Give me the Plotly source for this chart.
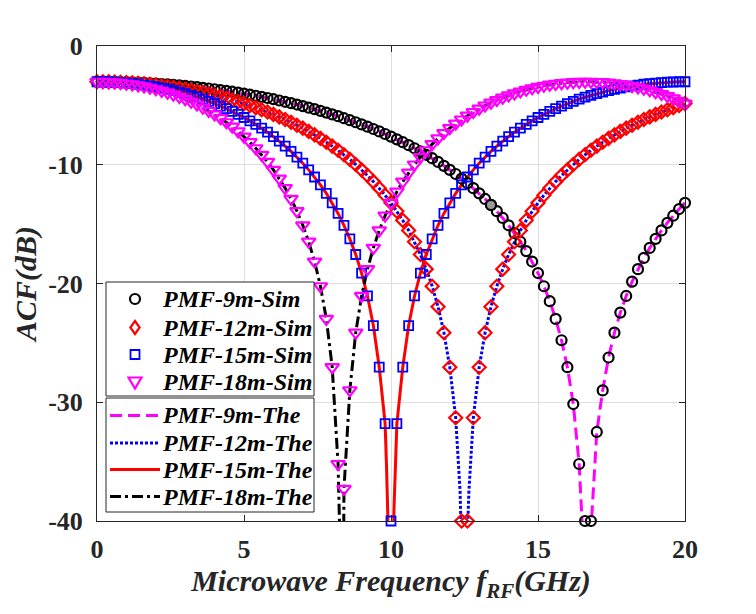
import plotly.graph_objects as go

# ---------------- data ----------------
freq_ghz = [round(0.2 * i, 1) for i in range(101)]  # 0 ... 20 GHz, 0.2 GHz grid

acf_9m_sim = [
    -3.01, -3.01, -3.02, -3.02, -3.03, -3.05, -3.07, -3.09, -3.11, -3.14,
    -3.17, -3.20, -3.23, -3.27, -3.32, -3.36, -3.41, -3.46, -3.52, -3.58,
    -3.64, -3.71, -3.78, -3.85, -3.93, -4.01, -4.10, -4.19, -4.28, -4.38,
    -4.48, -4.59, -4.70, -4.81, -4.93, -5.06, -5.19, -5.32, -5.46, -5.61,
    -5.76, -5.91, -6.08, -6.25, -6.42, -6.60, -6.79, -6.99, -7.19, -7.41,
    -7.63, -7.86, -8.10, -8.35, -8.61, -8.88, -9.16, -9.45, -9.76, -10.09,
    -10.43, -10.78, -11.16, -11.55, -11.97, -12.41, -12.88, -13.38, -13.91, -14.48,
    -15.10, -15.76, -16.48, -17.27, -18.15, -19.12, -20.23, -21.49, -22.98, -24.78,
    -27.05, -30.15, -35.2, -40.0, -40.0, -32.5, -29.0, -26.23, -24.14, -22.45,
    -21.05, -19.84, -18.79, -17.85, -17.00, -16.24, -15.53, -14.89, -14.29, -13.73,
    -13.21,
]

acf_12m_sim = [
    -3.01, -3.01, -3.02, -3.03, -3.05, -3.08, -3.11, -3.15, -3.19, -3.23,
    -3.29, -3.35, -3.41, -3.48, -3.56, -3.64, -3.73, -3.83, -3.93, -4.04,
    -4.16, -4.28, -4.41, -4.55, -4.70, -4.85, -5.01, -5.19, -5.37, -5.56,
    -5.76, -5.97, -6.19, -6.42, -6.67, -6.92, -7.19, -7.48, -7.78, -8.10,
    -8.43, -8.78, -9.16, -9.55, -9.98, -10.43, -10.91, -11.42, -11.97, -12.57,
    -13.21, -13.91, -14.68, -15.53, -16.48, -17.56, -18.79, -20.23, -21.96, -24.14,
    -27.05, -31.3, -40.0, -40.0, -31.3, -27.05, -24.14, -21.96, -20.23, -18.79,
    -17.56, -16.48, -15.53, -14.68, -13.91, -13.21, -12.57, -11.97, -11.42, -10.91,
    -10.43, -9.98, -9.55, -9.16, -8.78, -8.43, -8.10, -7.78, -7.48, -7.19,
    -6.92, -6.67, -6.42, -6.19, -5.97, -5.76, -5.56, -5.37, -5.19, -5.01,
    -4.85,
]

acf_15m_sim = [
    -3.01, -3.01, -3.03, -3.05, -3.08, -3.12, -3.17, -3.22, -3.29, -3.36,
    -3.45, -3.54, -3.64, -3.76, -3.88, -4.01, -4.16, -4.31, -4.48, -4.66,
    -4.85, -5.06, -5.28, -5.51, -5.76, -6.02, -6.30, -6.60, -6.92, -7.26,
    -7.63, -8.01, -8.43, -8.88, -9.35, -9.87, -10.43, -11.03, -11.69, -12.41,
    -13.21, -14.10, -15.10, -16.24, -17.56, -19.12, -21.05, -23.54, -27.05, -31.8,
    -40.0, -31.8, -27.05, -23.54, -21.05, -19.12, -17.56, -16.24, -15.10, -14.10,
    -13.21, -12.41, -11.69, -11.03, -10.43, -9.87, -9.35, -8.88, -8.43, -8.01,
    -7.63, -7.26, -6.92, -6.60, -6.30, -6.02, -5.76, -5.51, -5.28, -5.06,
    -4.85, -4.66, -4.48, -4.31, -4.16, -4.01, -3.88, -3.76, -3.64, -3.54,
    -3.45, -3.36, -3.29, -3.22, -3.17, -3.12, -3.08, -3.05, -3.03, -3.01,
    -3.01,
]

acf_18m_sim = [
    -3.01, -3.02, -3.03, -3.07, -3.11, -3.17, -3.23, -3.32, -3.41, -3.52,
    -3.64, -3.78, -3.93, -4.10, -4.28, -4.48, -4.70, -4.93, -5.19, -5.46,
    -5.76, -6.08, -6.42, -6.79, -7.19, -7.63, -8.10, -8.61, -9.16, -9.76,
    -10.43, -11.16, -11.97, -12.88, -13.91, -15.10, -16.48, -18.15, -20.23, -22.98,
    -27.05, -35.2, -37.3, -28.99, -24.14, -21.05, -18.79, -17.00, -15.53, -14.29,
    -13.21, -12.26, -11.42, -10.66, -9.98, -9.35, -8.78, -8.26, -7.78, -7.33,
    -6.92, -6.54, -6.19, -5.86, -5.56, -5.28, -5.01, -4.77, -4.55, -4.35,
    -4.16, -3.99, -3.83, -3.69, -3.56, -3.45, -3.35, -3.26, -3.19, -3.13,
    -3.08, -3.04, -3.02, -3.01, -3.01, -3.03, -3.05, -3.09, -3.15, -3.21,
    -3.29, -3.38, -3.48, -3.60, -3.73, -3.88, -4.04, -4.21, -4.41, -4.62,
    -4.85,
]

# extra theory points around each fading notch (the theory curves dive below -40 dB)
notch_9m_f = [16.52, 16.57, 16.62, 16.67, 16.72, 16.77, 16.82]
notch_9m_db = [-40.0, -43.5, -49.5, -70.0, -49.5, -43.5, -40.0]
notch_12m_f = [12.35, 12.40, 12.45, 12.50, 12.55, 12.60, 12.65]
notch_12m_db = [-37.5, -41.0, -47.1, -70.0, -47.1, -41.0, -37.5]
notch_15m_f = [9.85, 9.90, 9.95, 10.00, 10.05, 10.10, 10.15]
notch_15m_db = [-35.6, -39.1, -45.1, -70.0, -45.1, -39.1, -35.6]
notch_18m_f = [8.23, 8.28, 8.33, 8.38]
notch_18m_db = [-37.5, -43.5, -70.0, -43.5]

datatip_index = 67  # highlighted point on the 9 m curve

x_ticks = [0, 5, 10, 15, 20]
y_ticks = [0, -10, -20, -30, -40]

sim_names = ["PMF-9m-Sim", "PMF-12m-Sim", "PMF-15m-Sim", "PMF-18m-Sim"]
the_names = ["PMF-9m-The", "PMF-12m-The", "PMF-15m-The", "PMF-18m-The"]


def theory_curve(sim, nf, ndb):
    pts = [(f, v) for f, v in zip(freq_ghz, sim) if v > -40] + list(zip(nf, ndb))
    pts.sort()
    return [p[0] for p in pts], [p[1] for p in pts]


FONT = "Liberation Serif"
DARK = "#262626"
fig = go.Figure()

# ---- theory lines (drawn first, below markers) ----
the_styles = [
    (acf_9m_sim, notch_9m_f, notch_9m_db, "#ff00ff", "12px,6px"),
    (acf_12m_sim, notch_12m_f, notch_12m_db, "#0000ff", "3px,2px"),
    (acf_15m_sim, notch_15m_f, notch_15m_db, "#ff0000", "solid"),
    (acf_18m_sim, notch_18m_f, notch_18m_db, "#000000", "11px,4px,3px,4px"),
]
for name, (sim, nf, ndb, col, dash) in zip(the_names, the_styles):
    tx, ty = theory_curve(sim, nf, ndb)
    fig.add_trace(go.Scatter(
        x=tx, y=ty, mode="lines", name=name, showlegend=False,
        line=dict(color=col, width=3, dash=dash), cliponaxis=True,
    ))

# ---- simulation markers ----
sim_styles = [
    (acf_9m_sim, "circle-open", 10, "#000000", 2.2),
    (acf_12m_sim, "diamond-open", 10, "#ff0000", 2.2),
    (acf_15m_sim, "square-open", 9, "#0000ff", 1.8),
    (acf_18m_sim, "triangle-down-open", 12, "#ff00ff", 2.2),
]
for name, (sim, sym, size, col, lw) in zip(sim_names, sim_styles):
    fig.add_trace(go.Scatter(
        x=freq_ghz, y=sim, mode="markers", name=name, showlegend=False,
        marker=dict(symbol=sym, size=size, color=col, line=dict(color=col, width=lw)),
        cliponaxis=False,
    ))

# datatip highlight
fig.add_trace(go.Scatter(
    x=[freq_ghz[datatip_index]], y=[acf_9m_sim[datatip_index]], mode="markers",
    showlegend=False, cliponaxis=False,
    marker=dict(symbol="circle", size=10, color="#9a9a9a", line=dict(color="#000000", width=2)),
))

# ---------------- legends (two stacked boxes, MATLAB style) ----------------
PLOT_L, PLOT_T, PLOT_W, PLOT_H = 97, 46, 588, 475


def px2x(px):
    return (px - PLOT_L) / PLOT_W


def py2y(py):
    return (PLOT_T + PLOT_H - py) / PLOT_H


shapes = []
annotations = []
box_left, box_right = 106, 314
boxes = [(282, 396), (398, 512)]
for top, bot in boxes:
    shapes.append(dict(type="rect", xref="paper", yref="paper",
                       x0=px2x(box_left), x1=px2x(box_right), y0=py2y(bot), y1=py2y(top),
                       fillcolor="white", line=dict(color=DARK, width=1), layer="above"))

sim_rows = [299, 327.5, 354.5, 381.5]
the_rows = [415.5, 443, 469.5, 496.5]
sym_cx = 135
text_x = 161

# marker glyphs (pixel-sized paths anchored in the legend box)
glyphs = [
    dict(type="circle", x0=-5, x1=5, y0=-5, y1=5, line=dict(color="#000000", width=2.2)),
    dict(type="path", path="M0,6.5 L4.6,0 L0,-6.5 L-4.6,0 Z", line=dict(color="#ff0000", width=2.2)),
    dict(type="rect", x0=-4.5, x1=4.5, y0=-4.5, y1=4.5, line=dict(color="#0000ff", width=1.8)),
    dict(type="path", path="M-6.5,4 L6.5,4 L0,-7 Z", line=dict(color="#ff00ff", width=2.2)),
]
for g, row in zip(glyphs, sim_rows):
    g.update(xref="paper", yref="paper", xsizemode="pixel", ysizemode="pixel",
             xanchor=px2x(sym_cx), yanchor=py2y(row), layer="above", fillcolor="rgba(0,0,0,0)")
    shapes.append(g)

for (_, _, _, col, dash), row in zip(the_styles, the_rows):
    shapes.append(dict(type="line", xref="paper", yref="paper",
                       x0=px2x(110), x1=px2x(160), y0=py2y(row), y1=py2y(row),
                       line=dict(color=col, width=3, dash=dash), layer="above"))

legend_font = dict(family=FONT, size=24, color="#000000", weight="bold", style="italic")
for name, row in list(zip(sim_names, sim_rows)) + list(zip(the_names, the_rows)):
    annotations.append(dict(text=name, xref="paper", yref="paper", x=px2x(text_x), y=py2y(row),
                            xanchor="left", yanchor="middle", showarrow=False,
                            borderpad=0, font=legend_font))

axis_common = dict(
    showgrid=True, gridcolor="#dfdfdf", gridwidth=1,
    ticks="inside", ticklen=6, tickcolor=DARK, tickwidth=1,
    showline=True, linecolor=DARK, linewidth=1, mirror="ticks",
    zeroline=False,
    tickfont=dict(family=FONT, size=26, color=DARK, weight="bold"),
)

# the page body adds an 8 px margin, so the figure is 8 px smaller and shifted
fig.update_layout(
    width=748, height=606,
    margin=dict(l=PLOT_L - 8, r=71, t=PLOT_T - 8, b=93),
    paper_bgcolor="white", plot_bgcolor="white",
    showlegend=False,
    xaxis=dict(
        range=[0, 20], tickvals=x_ticks, ticktext=[str(v) for v in x_ticks],
        ticklabelstandoff=5,
        title=dict(text="Microwave Frequency f<sub>RF</sub>(GHz)", standoff=6,
                   font=dict(family=FONT, size=30, color=DARK, weight="bold", style="italic")),
        **axis_common,
    ),
    yaxis=dict(
        range=[-40, 0], tickvals=y_ticks, ticktext=[str(v) for v in y_ticks],
        ticklabelstandoff=8,
        title=dict(text="ACF(dB)", standoff=2,
                   font=dict(family=FONT, size=30, color=DARK, weight="bold", style="italic")),
        **axis_common,
    ),
    shapes=shapes,
    annotations=annotations,
)

fig.write_html("out.html")
